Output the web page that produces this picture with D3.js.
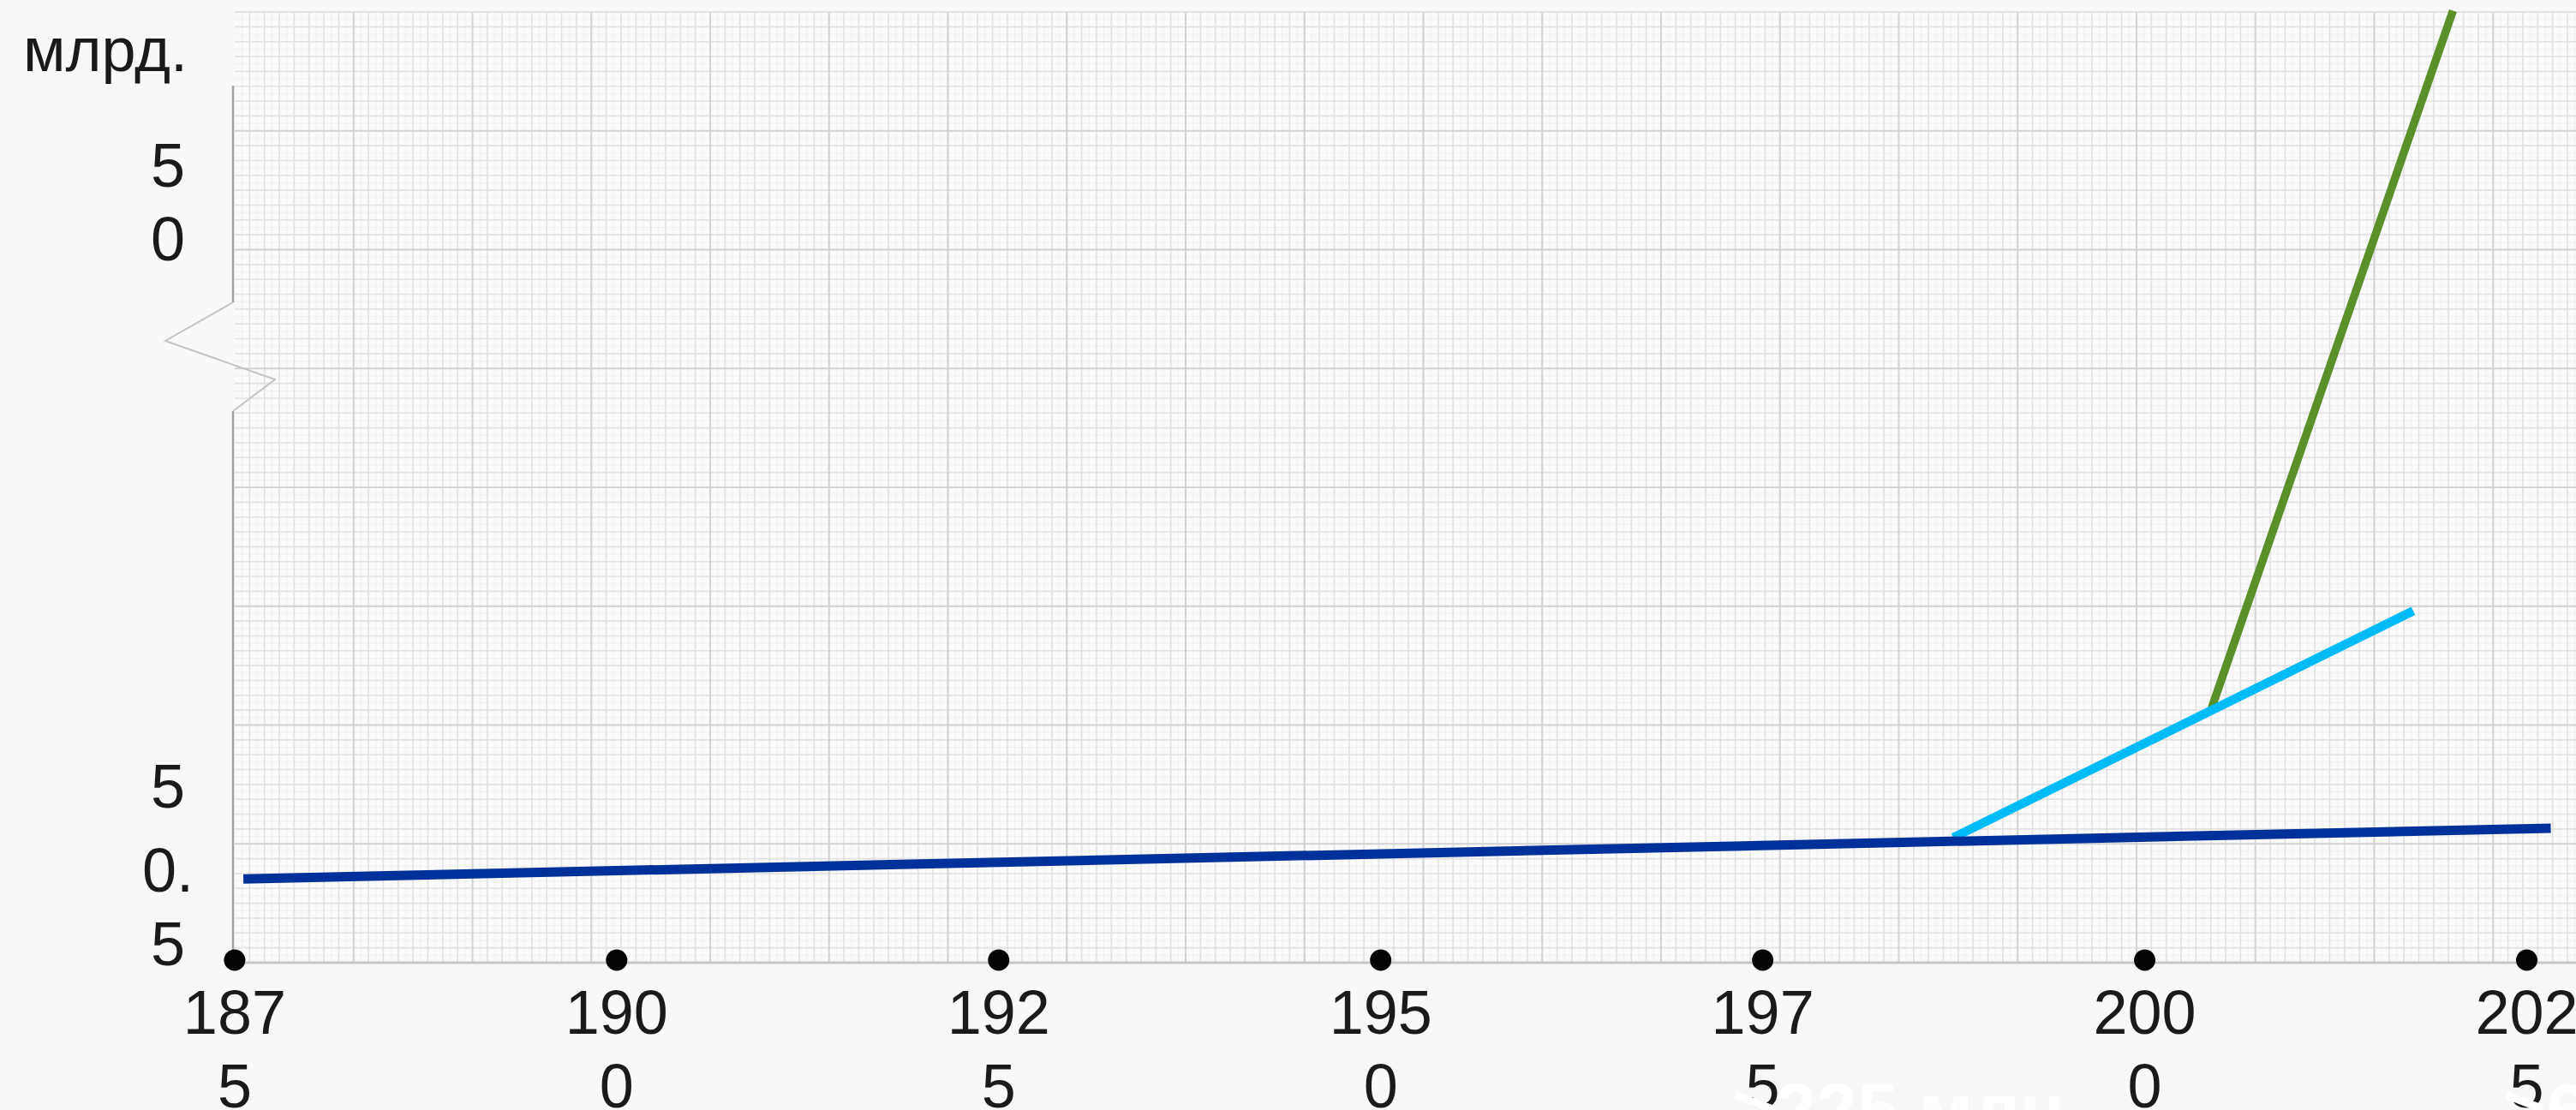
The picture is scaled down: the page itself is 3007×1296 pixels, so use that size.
<!DOCTYPE html>
<html>
<head>
<meta charset="utf-8">
<script src="https://cdn.jsdelivr.net/npm/d3@7"></script>
<style>
  html, body { margin: 0; padding: 0; background: #f8f8f8; }
  svg { display: block; }
  text { font-family: "Liberation Sans", Arial, sans-serif; }
</style>
</head>
<body>
<svg id="chart" width="3007" height="1296"></svg>
<script>
// ---------------- data ----------------
const xTickYears  = [1875, 1900, 1925, 1950, 1975, 2000, 2025];
const xTickLabels = ["1875", "1900", "1925", "1950", "1975", "2000", "2025"];
const yTickValues = [0.5, 5, 50];
const yTickLabels = ["0.5", "5", "50"];
const yUnitLabel  = "млрд.";

// dark blue series
const seriesAYears  = [1875.6, 2026.6];
const seriesAValues = [1.5, 3.39];
// light blue series
const seriesBYears  = [1987.5, 2017.6];
const seriesBValues = [3.04, 18.4];
// green series
const seriesCYears  = [2004.4, 2020.2];
const seriesCValues = [10.9, 64.6];

const noteTexts = [">225 млн", ">6"];

// ---------------- layout ----------------
const W = 3007, H = 1296;
const plot = { left: 274, top: 14, right: 3007, bottom: 1124 };
const FONT = 72, LINE_H = 86, CAP = 52;

const svg = d3.select("#chart");

const x = d3.scaleLinear().domain([1875, 2025]).range([273.4, 2949]);
// piecewise scale (the axis is broken between the lower and upper part)
const y = d3.scaleLinear().domain([0.5, 5, 50]).range([1057.5, 916.5, 234]);

// background
svg.append("rect").attr("width", W).attr("height", H).attr("fill", "#f8f8f8");
svg.append("rect")
  .attr("x", plot.left).attr("y", plot.top)
  .attr("width", plot.right - plot.left).attr("height", plot.bottom - plot.top)
  .attr("fill", "#fafafa");

// ---------------- graph-paper grid ----------------
const major = 138.75, minor = major / 8, fine = minor / 2;
const grid = svg.append("g");
function gridLines(step, color, width) {
  const xs = d3.range(plot.left + step, plot.right, step);
  const ys = d3.range(plot.top + step, plot.bottom, step);
  grid.append("g").selectAll("line").data(xs).join("line")
    .attr("x1", d => d).attr("x2", d => d)
    .attr("y1", plot.top).attr("y2", plot.bottom)
    .attr("stroke", color).attr("stroke-width", width);
  grid.append("g").selectAll("line").data(ys).join("line")
    .attr("y1", d => d).attr("y2", d => d)
    .attr("x1", plot.left).attr("x2", plot.right)
    .attr("stroke", color).attr("stroke-width", width);
}
gridLines(fine, "#f0f0f0", 1);
gridLines(minor, "#e2e2e2", 1.6);
gridLines(major, "#d3d3d3", 2);

// top edge
svg.append("line")
  .attr("x1", plot.left).attr("x2", plot.right)
  .attr("y1", plot.top).attr("y2", plot.top)
  .attr("stroke", "#e2e2e2").attr("stroke-width", 2);

// baseline
svg.append("line")
  .attr("x1", plot.left).attr("x2", plot.right)
  .attr("y1", plot.bottom).attr("y2", plot.bottom)
  .attr("stroke", "#c6c6c6").attr("stroke-width", 3);

// y axis line with break
const axisX = 272;
svg.append("line")
  .attr("x1", axisX).attr("x2", axisX).attr("y1", 100).attr("y2", 353)
  .attr("stroke", "#a3a3a3").attr("stroke-width", 2.5);
svg.append("line")
  .attr("x1", axisX).attr("x2", axisX).attr("y1", 480).attr("y2", plot.bottom)
  .attr("stroke", "#a3a3a3").attr("stroke-width", 2.5);
svg.append("path")
  .attr("d", d3.line()([[axisX, 353], [193, 398], [321, 443], [axisX, 480]]))
  .attr("fill", "none").attr("stroke", "#c4c4c4").attr("stroke-width", 2);

// ---------------- series ----------------
const line = d3.line().x(d => x(d[0])).y(d => y(d[1]));
const zip = (a, b) => a.map((v, i) => [v, b[i]]);

svg.append("path").datum(zip(seriesCYears, seriesCValues))
  .attr("d", line).attr("fill", "none")
  .attr("stroke", "#5a8f29").attr("stroke-width", 9.5);
svg.append("path").datum(zip(seriesBYears, seriesBValues))
  .attr("d", line).attr("fill", "none")
  .attr("stroke", "#00bbf6").attr("stroke-width", 10.5);
svg.append("path").datum(zip(seriesAYears, seriesAValues))
  .attr("d", line).attr("fill", "none")
  .attr("stroke", "#00309a").attr("stroke-width", 11);

// ---------------- text wrapping (character based) ----------------
function wrapChars(sel, maxW) {
  sel.each(function () {
    const t = d3.select(this);
    const str = t.text();
    t.text(null);
    const probe = t.append("tspan");
    const lines = [];
    let cur = "";
    for (const ch of str) {
      probe.text(cur + ch);
      if (cur && probe.node().getComputedTextLength() > maxW) { lines.push(cur); cur = ch; }
      else cur += ch;
    }
    lines.push(cur);
    probe.remove();
    lines.forEach((ln, i) => {
      t.append("tspan").attr("x", 0).attr("dy", i ? LINE_H : 0).text(ln);
    });
    t.attr("data-lines", lines.length);
  });
}

// ---------------- x axis ----------------
const xAxisG = svg.append("g")
  .attr("transform", `translate(0,1121)`)
  .call(d3.axisBottom(x).tickValues(xTickYears)
    .tickFormat((d, i) => xTickLabels[i]).tickSize(0));
xAxisG.select(".domain").remove();
xAxisG.attr("font-size", FONT).attr("font-family", '"Liberation Sans", Arial, sans-serif');
xAxisG.selectAll(".tick").append("circle").attr("r", 12.5).attr("fill", "#050505");
xAxisG.selectAll(".tick text")
  .attr("fill", "#1a1a1a").attr("y", 86).attr("dy", null)
  .call(wrapChars, 140);

// ---------------- y axis labels ----------------
const yAxisG = svg.append("g")
  .attr("transform", `translate(196,0)`)
  .call(d3.axisLeft(y).tickValues(yTickValues)
    .tickFormat((d, i) => yTickLabels[i]).tickSize(0));
yAxisG.select(".domain").remove();
yAxisG.attr("font-size", FONT).attr("font-family", '"Liberation Sans", Arial, sans-serif');
yAxisG.selectAll(".tick text")
  .attr("fill", "#1a1a1a").attr("text-anchor", "middle").attr("x", 0).attr("dy", null)
  .call(wrapChars, 70)
  .each(function () {
    const n = +this.getAttribute("data-lines");
    const yy = CAP / 2 - (n - 1) * LINE_H / 2;
    d3.select(this).attr("y", yy);
    d3.select(this).select("tspan").attr("y", yy);
  });

// unit label
svg.append("text")
  .attr("x", 27).attr("y", 83)
  .attr("font-size", FONT).attr("fill", "#1a1a1a")
  .text(yUnitLabel);

// ---------------- white overlay notes (cut by the bottom edge) ----------------
svg.append("g").selectAll("text").data(noteTexts).join("text")
  .attr("x", (d, i) => [2022, 2922][i]).attr("y", 1325)
  .attr("font-size", 86).attr("font-weight", "bold").attr("fill", "#ffffff")
  .text(d => d);
</script>
</body>
</html>
